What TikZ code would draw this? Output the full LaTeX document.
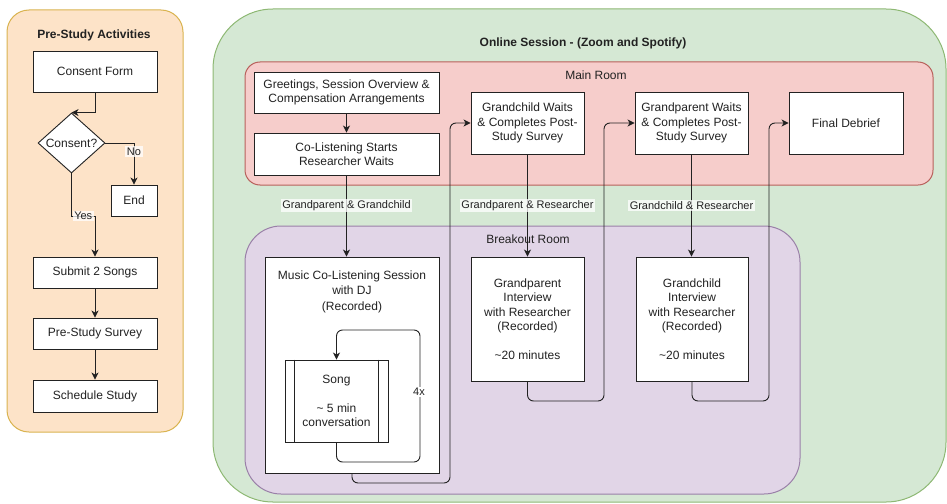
\documentclass[tikz,border=0pt]{standalone}
\usepackage{fontspec}
\setmainfont{Liberation Sans}
\usetikzlibrary{arrows.meta,shapes.geometric}
\definecolor{ink}{HTML}{222222}
\definecolor{orfill}{HTML}{FDE3C8}
\definecolor{ordraw}{HTML}{D9B34F}
\definecolor{grfill}{HTML}{D5E8D4}
\definecolor{grdraw}{HTML}{8DB873}
\definecolor{rdfill}{HTML}{F6CDCB}
\definecolor{rddraw}{HTML}{B8605B}
\definecolor{pufill}{HTML}{E1D5E7}
\definecolor{pudraw}{HTML}{9A80A8}
\begin{document}
\begin{tikzpicture}[x=1pt,y=-1pt,
  every node/.style={font=\fontsize{12}{14.5}\selectfont, text=ink},
  title/.style={font=\fontsize{12}{14.5}\selectfont\bfseries},
  box/.style={draw=ink, fill=white, line width=0.9pt, inner sep=0pt, align=center},
  arr/.style={draw=ink, line width=0.9pt, -{Stealth[length=7pt,width=7pt,inset=2pt]}},
  lbl/.style={font=\fontsize{11}{13}\selectfont, fill=white, fill opacity=0.75, text opacity=1, inner sep=1.5pt},
  panel/.style={line width=1pt},
]
\useasboundingbox (0,0) rectangle (947,503);

% ---------- pre-study panel ----------
\draw[panel, fill=orfill, draw=ordraw, rounded corners=22pt] (7,10) rectangle (183,432);
\node[title] (pretitle) at (94,35) {Pre-Study Activities};
\node[box, minimum width=124pt, minimum height=41pt] (consent) at (95,71.5) {Consent Form};
\node[box, shape=diamond, aspect=1.2, minimum width=67pt, minimum height=60pt] (dia) at (71.5,143) {Consent?};
\node[box, minimum width=46pt, minimum height=31pt] (endb) at (134,200.5) {End};
\node[box, minimum width=124pt, minimum height=31pt] (submit) at (95,272.5) {Submit 2 Songs};
\node[box, minimum width=124pt, minimum height=31pt] (presurvey) at (95,333.5) {Pre-Study Survey};
\node[box, minimum width=124pt, minimum height=32pt] (schedule) at (95,396) {Schedule Study};
\coordinate (yesbend) at (95,216);

\draw[arr] (consent.south) |- (dia.north);
\draw[arr] (dia.east) -| (endb.north) node[lbl, pos=0.6] {No};
\draw[arr] (dia.south) |- (yesbend) node[lbl, pos=0.75] {Yes} -- (submit.north);
\draw[arr] (submit) -- (presurvey);
\draw[arr] (presurvey) -- (schedule);

% ---------- online session ----------
\draw[panel, fill=grfill, draw=grdraw, rounded corners=60pt] (213,9) rectangle (946,502);
\node[title] (online) at (583,43) {Online Session - (Zoom and Spotify)};

% main room
\draw[panel, fill=rdfill, draw=rddraw, rounded corners=15pt] (245,62) rectangle (933,185);
\node (mainlbl) at (596,75) {Main Room};
\node[box, minimum width=185pt, minimum height=41pt] (greet) at (346.5,92.5)
  {Greetings, Session Overview \&\\Compensation Arrangements};
\node[box, minimum width=185pt, minimum height=42pt] (colisten) at (346.5,154)
  {Co-Listening Starts\\Researcher Waits};
\node[box, minimum width=113pt, minimum height=62pt] (gcwait) at (527.5,123)
  {Grandchild Waits\\\& Completes Post-\\Study Survey};
\node[box, minimum width=113pt, minimum height=62pt] (gpwait) at (691.5,123)
  {Grandparent Waits\\\& Completes Post-\\Study Survey};
\node[box, minimum width=114pt, minimum height=62pt] (debrief) at (846,123) {Final Debrief};

% breakout room
\draw[panel, fill=pufill, draw=pudraw, rounded corners=36pt] (245,226) rectangle (800,494);
\node (brklbl) at (528,239) {Breakout Room};
\node[box, minimum width=174pt, minimum height=216pt] (music) at (352,365) {};
\node[align=center, font=\fontsize{12}{15.5}\selectfont] (musictxt) at (352,291.5)
  {Music Co-Listening Session\\with DJ\\(Recorded)};
\node[box, minimum width=103pt, minimum height=82pt] (song) at (336.5,401)
  {Song\\\mbox{}\\\textasciitilde{} 5 min\\conversation};
\draw[ink, line width=0.9pt] ([xshift=10pt]song.north west) -- ([xshift=10pt]song.south west);
\draw[ink, line width=0.9pt] ([xshift=-10pt]song.north east) -- ([xshift=-10pt]song.south east);
\node[box, minimum width=113pt, minimum height=124pt] (gpint) at (527.5,319)
  {Grandparent\\Interview\\with Researcher\\(Recorded)\\\mbox{}\\\textasciitilde20 minutes};
\node[box, minimum width=112pt, minimum height=124pt] (gcint) at (692,319)
  {Grandchild\\Interview\\with Researcher\\(Recorded)\\\mbox{}\\\textasciitilde20 minutes};

% song loop
\coordinate (loopa) at (420,462);
\coordinate (loopb) at (336.5,330);
\draw[arr, rounded corners=6pt] (song.south) |- (loopa) |- (loopb) -- (song.north);
\node[fill=white, inner sep=1pt, font=\fontsize{11}{13}\selectfont] (four) at (419,392) {4x};

% flow connectors
\coordinate (r1) at (450,483);
\coordinate (r2) at (604,401);
\coordinate (r3) at (769,401);
\draw[arr] (greet) -- (colisten);
\draw[arr] (colisten.south) -- (colisten.south |- music.north)
  node[lbl, pos=0.37] {Grandparent \& Grandchild};
\draw[arr, rounded corners=6pt] (music.south) |- (r1) |- (gcwait.west);
\draw[arr] (gcwait) -- (gpint) node[lbl, midway] {Grandparent \& Researcher};
\draw[arr, rounded corners=6pt] (gpint.south) |- (r2) |- (gpwait.west);
\draw[arr] (gpwait.south) -- (gpwait.south |- gcint.north)
  node[lbl, midway] {Grandchild \& Researcher};
\draw[arr, rounded corners=6pt] (gcint.south) |- (r3) |- (debrief.west);
\end{tikzpicture}
\end{document}
